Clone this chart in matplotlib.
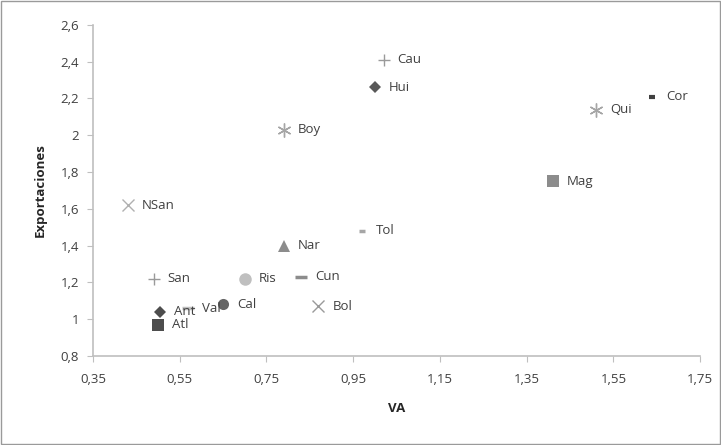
import numpy as np
import matplotlib
matplotlib.use("Agg")
import matplotlib.pyplot as plt
from matplotlib.patches import Rectangle
from matplotlib.ticker import FuncFormatter

# data
names = ["Cau", "Hui", "Boy", "Cor", "Qui", "Mag", "NSan", "Tol", "Nar",
         "San", "Ris", "Cun", "Bol", "Cal", "Val", "Ant", "Atl"]
va = [1.02, 1.00, 0.79, 1.64, 1.51, 1.41, 0.43, 0.97, 0.79,
      0.49, 0.70, 0.83, 0.87, 0.65, 0.57, 0.505, 0.50]
exportaciones = [2.41, 2.26, 2.03, 2.21, 2.14, 1.75, 1.62, 1.48, 1.40,
                 1.22, 1.22, 1.23, 1.07, 1.08, 1.06, 1.04, 0.97]

# excel-like marker styles per series
styles = {
    "Cau": dict(marker="+", color="#9a9a9a", ms=9, mew=1.0),
    "Hui": dict(marker="D", color="#595959", ms=6, mew=0),
    "Boy": dict(marker=(6, 2, 0), color="#a6a6a6", ms=10, mew=1.0),
    "Cor": dict(marker="_", color="#404040", ms=5, mew=3),
    "Qui": dict(marker=(6, 2, 0), color="#a6a6a6", ms=10, mew=1.0),
    "Mag": dict(marker="s", color="#8c8c8c", ms=9, mew=0),
    "NSan": dict(marker="x", color="#b0b0b0", ms=9, mew=1.0),
    "Tol": dict(marker="_", color="#a6a6a6", ms=5, mew=2.5),
    "Nar": dict(marker="^", color="#8c8c8c", ms=9, mew=0),
    "San": dict(marker="+", color="#9a9a9a", ms=9, mew=1.0),
    "Ris": dict(marker="o", color="#bfbfbf", ms=9, mew=0),
    "Cun": dict(marker="_", color="#8c8c8c", ms=9, mew=2.5),
    "Bol": dict(marker="x", color="#9a9a9a", ms=9, mew=1.0),
    "Cal": dict(marker="o", color="#666666", ms=8, mew=0),
    "Val": dict(marker="_", color="#bfbfbf", ms=9, mew=2.5),
    "Ant": dict(marker="D", color="#4d4d4d", ms=6, mew=0),
    "Atl": dict(marker="s", color="#4d4d4d", ms=8, mew=0),
}

plt.rcParams["font.family"] = ["Open Sans", "DejaVu Sans"]

fig = plt.figure(figsize=(7.21, 4.45), dpi=100)
ax = fig.add_axes([0.129, 0.2, 0.842, 0.744])

for n, x, y in zip(names, va, exportaciones):
    st = styles[n]
    ax.plot([x], [y], linestyle="none", marker=st["marker"], color=st["color"],
            markersize=st["ms"], markeredgewidth=st["mew"])
    ax.annotate(n, (x, y), xytext=(10, 0), textcoords="offset points",
                ha="left", va="center", fontsize=9.5, color="#404040")

ax.set_xlim(0.35, 1.75)
ax.set_ylim(0.8, 2.6)
ax.set_xticks(np.arange(0.35, 1.76, 0.2))
ax.set_yticks(np.arange(0.8, 2.61, 0.2))
fmt = FuncFormatter(lambda v, p: f"{v:g}".replace(".", ","))
ax.xaxis.set_major_formatter(fmt)
ax.yaxis.set_major_formatter(fmt)

for s in ["top", "right"]:
    ax.spines[s].set_visible(False)
for s in ["left", "bottom"]:
    ax.spines[s].set_color("#bfbfbf")
    ax.spines[s].set_linewidth(1.2)
ax.tick_params(colors="#bfbfbf", labelcolor="#404040", labelsize=9.5,
               length=4, direction="out")
ax.tick_params(axis="x", pad=8)
ax.tick_params(axis="y", pad=6)

ax.set_xlabel("VA", fontsize=9.5, fontweight="bold", color="#262626", labelpad=12)
ax.set_ylabel("Exportaciones", fontsize=9.5, fontweight="bold", color="#262626", labelpad=10)

fig.patches.append(Rectangle((0.001, 0.002), 0.997, 0.996, transform=fig.transFigure,
                             fill=False, edgecolor="#9a9a9a", linewidth=1))

fig.savefig("out.png", dpi=100)
